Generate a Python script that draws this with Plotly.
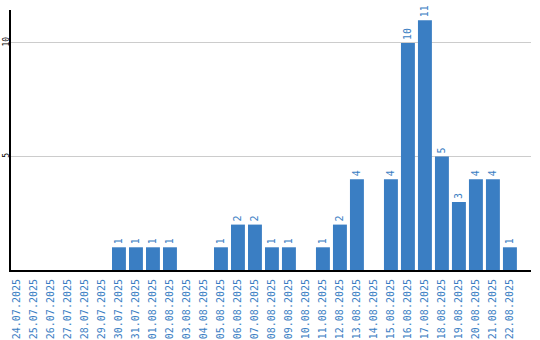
import plotly.graph_objects as go

dates = ["24.07.2025","25.07.2025","26.07.2025","27.07.2025","28.07.2025","29.07.2025",
         "30.07.2025","31.07.2025","01.08.2025","02.08.2025","03.08.2025","04.08.2025",
         "05.08.2025","06.08.2025","07.08.2025","08.08.2025","09.08.2025","10.08.2025",
         "11.08.2025","12.08.2025","13.08.2025","14.08.2025","15.08.2025","16.08.2025",
         "17.08.2025","18.08.2025","19.08.2025","20.08.2025","21.08.2025","22.08.2025"]
values = [0,0,0,0,0,0,1,1,1,1,0,0,1,2,2,1,1,0,1,2,4,0,4,10,11,5,3,4,4,1]
ytick_vals = [5, 10]

blue = "#3a7ec3"
labels = [str(v) if v > 0 else "" for v in values]

fig = go.Figure(go.Bar(
    x=list(range(len(dates))), y=values, width=0.82,
    marker=dict(color=blue, line=dict(width=0)),
    text=labels, textposition="outside", textangle=-90,
    textfont=dict(family="DejaVu Sans Mono", size=10, color=blue),
    cliponaxis=False,
))
fig.update_layout(
    width=540, height=340, margin=dict(l=11, r=9, t=10, b=70),
    paper_bgcolor="white", plot_bgcolor="white", showlegend=False,
    xaxis=dict(range=[-0.35, 30.24], tickmode="array", tickvals=list(range(len(dates))),
               ticktext=dates, tickangle=-90, showgrid=False, showline=True,
               linecolor="black", linewidth=2, ticks="", zeroline=False, automargin=False,
               ticklabelstandoff=3,
               tickfont=dict(family="DejaVu Sans Mono", size=10, color=blue)),
    yaxis=dict(range=[0, 11.45], tickvals=ytick_vals, ticktext=[str(v) for v in ytick_vals],
               tickangle=-90, showgrid=True, gridcolor="#cccccc", gridwidth=1,
               showline=True, linecolor="black", linewidth=2, zeroline=False, ticks="",
               ticklabelstandoff=-3, automargin=False,
               tickfont=dict(family="DejaVu Sans Mono", size=8, color="black")),
)
fig.write_html("out.html")
